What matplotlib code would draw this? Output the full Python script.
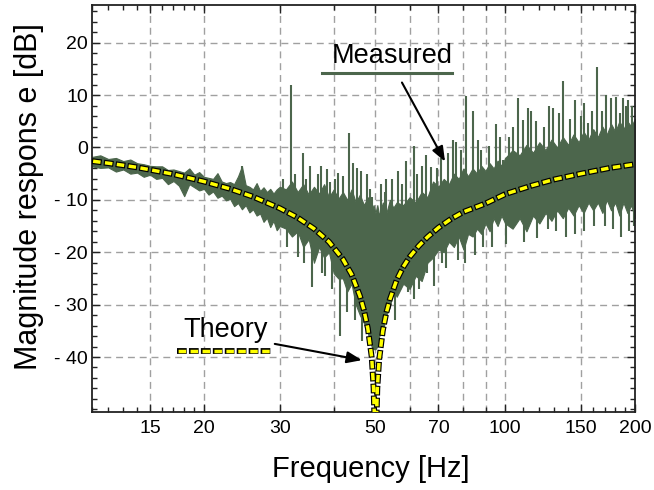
import numpy as np
import matplotlib
matplotlib.use("Agg")
import matplotlib.pyplot as plt
from matplotlib.ticker import FixedLocator, MultipleLocator, NullFormatter

plt.rcParams['font.family'] = ['Liberation Sans', 'DejaVu Sans']
plt.rcParams['lines.scale_dashes'] = False

# ---------------- data ----------------
# theory curve (notch at 50 Hz)
theory_hz = [11, 12, 13, 14, 15, 17, 20, 23, 26, 30, 33, 36, 39, 42, 44, 46, 47, 48, 49,
             49.5, 49.8, 50, 50.2, 50.5, 51, 52, 53, 54, 56, 58, 60, 63, 66, 70, 75, 80,
             90, 100, 115, 130, 150, 175, 200]
theory_db = [-2.6, -3.0, -3.4, -3.8, -4.25, -5.1, -6.5, -7.9, -9.4, -11.6, -13.4, -15.5,
             -18.0, -21.3, -24.2, -28.3, -31.0, -34.5, -40.0, -46.0, -54.0, -80.0, -54.0,
             -46.0, -40.5, -35.0, -31.5, -29.0, -25.3, -22.8, -20.9, -18.8, -17.1, -15.3,
             -13.6, -12.3, -10.7, -8.9, -7.3, -6.1, -5.0, -3.9, -3.2]

# measured trace: upper / lower edge of the noisy band
meas_hz = [11, 11.5, 12, 12.5, 13, 13.5, 14, 14.5, 15, 15.5, 16, 16.5, 17, 17.5, 18, 18.5,
           19, 19.5, 20, 20.5, 21, 21.5, 22, 22.5, 23, 23.5, 24, 24.5, 25, 25.5, 26, 26.5,
           27, 27.5, 28, 28.5, 29, 29.5, 30,
           31, 32, 33, 34, 35, 36, 37, 38, 39, 40, 41, 42, 43, 44, 45, 46, 47, 48, 49,
           49.5, 50, 50.5, 51, 52, 53, 54, 55, 56, 58, 60, 62, 64, 66, 68, 70, 72, 74,
           76, 78, 80, 82, 84, 86, 88, 90, 92, 94, 96, 98, 100,
           104, 108, 112, 116, 120, 124, 128, 132, 136, 140, 144, 148, 152, 156, 160,
           164, 168, 172, 176, 180, 184, 188, 192, 196, 200]
meas_hi = [-1.8, -1.5, -2.2, -2.0, -2.6, -2.3, -3.0, -3.2, -3.5, -3.6, -3.6, -4.3, -4.2,
           -4.5, -4.8, -4.0, -5.2, -4.7, -5.6, -5.8, -6.0, -4.9, -6.5, -6.8, -6.6, -7.0,
           -5.5, -3.6, -7.2, -7.5, -8.0, -6.8, -8.3, -7.6, -8.5, -7.9, -8.8, -8.0, -7.5,
           -8.0, -6.5, -8.5, -7.0, -9.0, -7.5, -8.8, -7.0, -9.5, -8.0, -9.8, -8.5, -10.0,
           -8.0, -10.5, -9.0, -11.0, -9.5, -12.0, -11.0, -12.5, -11.0, -13.0, -10.5,
           -12.5, -10.0, -11.5, -10.5, -11.0, -9.5, -10.5, -8.5, -9.5, -6.5, -7.5, -6.0,
           -7.0, -5.0, -6.0, -4.0, -5.5, -4.0, -5.0, -3.5, -4.5, -3.0, -4.0, -2.5, -3.5,
           -2.0,
           -0.5, -1.5, 0.5, -1.0, 1.0, -0.5, 1.5, 0.0, 2.0, 0.5, 2.5, 1.0, 3.0, 1.5, 3.5,
           2.0, 4.0, 2.5, 4.5, 3.0, 5.0, 3.5, 5.0, 4.0, 5.5]
meas_lo = [-3.6, -3.9, -3.8, -4.6, -4.2, -5.0, -4.8, -5.6, -5.2, -6.0, -5.8, -7.0, -6.4,
           -7.3, -9.3, -7.0, -7.6, -8.2, -7.9, -9.0, -8.4, -9.6, -9.2, -10.1, -9.8, -11.2,
           -10.6, -11.8, -11.0, -12.4, -11.8, -13.0, -12.6, -14.2, -13.4, -15.2, -14.0,
           -15.8, -15.0,
           -15.5, -17.0, -16.0, -19.0, -17.5, -22.0, -19.0, -21.0, -20.0, -24.0, -25.0,
           -25.0, -27.5, -26.0, -30.0, -32.0, -33.5, -35.5, -38.0, -38.5, -38.5, -38.0,
           -36.0, -35.0, -32.0, -30.5, -27.0, -28.5, -26.0, -27.0, -24.5, -25.5, -22.0,
           -21.0, -19.5, -20.0, -18.0, -19.0, -17.0, -19.5, -16.5, -17.0, -15.5, -16.5,
           -14.5, -16.0, -13.5, -15.0, -13.0, -14.5,
           -15.5, -13.5, -16.0, -13.0, -14.5, -12.5, -14.0, -12.0, -13.5, -11.5, -13.0,
           -11.0, -12.5, -10.5, -12.0, -10.5, -12.5, -10.0, -12.0, -10.5, -13.0, -10.5,
           -12.5, -11.0, -13.5]

# single spikes sticking out of the band (frequency, bottom, top)
spike_hz = [24.5, 31.8, 33.9, 35.2, 36.8, 38.6, 40.3, 42.0, 43.5, 45.2, 47.8, 53.0, 56.5,
            61.4, 64.0, 67.1, 71.0, 75.5, 77.0, 81.0, 84.0, 88.0, 91.5, 95.0, 99.0, 102,
            107, 110, 115, 118, 123, 129, 136, 141, 145, 150, 156, 163, 168, 176, 181,
            185, 188, 193, 197,
            30.5, 32.6, 34.5, 37.3, 39.2, 41.0, 44.3, 46.3, 48.6, 49.2, 51.5, 52.5, 54.5,
            57.5, 58.8, 62.5, 65.5, 69.5, 73.5, 79.0, 86.5, 97.0, 104.5, 113, 126, 133,
            152, 159, 171, 191,
            33.0, 35.6, 37.5, 39.6, 41.3, 43.0, 44.8, 59.5, 63.0, 68.5, 73.0, 77.5, 85.0,
            93.0, 110.5, 118.5, 131, 145.5, 160.5, 178, 193.5, 199,
            31.2, 34.2, 38.1, 46.5, 55.5, 61.5, 66.0, 71.5, 80.5, 89.0, 100.5, 125.5, 138,
            152.5, 170.5, 186]
spike_lo = [-8.0, -11.0, -12.0, -13.0, -14.5, -15.5, -17.0, -19.0, -21.0, -24.0, -28.0,
            -26.0, -24.0, -20.0, -19.0, -17.0, -15.0, -13.5, -13.0, -12.5, -12.0, -11.0,
            -10.5, -10.0, -9.5, -9.0, -8.0, -7.5, -7.5, -7.0, -6.5, -6.5, -6.0, -5.5,
            -5.5, -5.0, -5.0, -4.5, -4.0, -4.0, -3.5, -3.5, -3.5, -3.2, -3.2,
            -14.0, -15.0, -16.0, -17.0, -18.0, -20.0, -23.0, -26.0, -30.0, -33.0, -34.0,
            -32.0, -28.0, -25.0, -24.0, -21.0, -19.0, -17.0, -15.0, -13.0, -11.0, -9.0,
            -8.0, -7.0, -6.0, -6.0, -5.0, -5.0, -4.0, -3.5,
            -21.0, -26.7, -24.0, -27.0, -36.0, -31.4, -33.0, -27.5, -27.0, -26.5, -23.0,
            -21.5, -20.5, -19.0, -18.0, -17.3, -16.0, -16.6, -15.0, -15.5, -16.0, -15.0,
            -19.0, -22.0, -24.5, -37.0, -33.0, -29.0, -24.0, -22.0, -22.0, -19.0, -18.5,
            -15.5, -17.0, -16.0, -15.0, -17.0]
spike_hi = [-3.6, 12.0, -1.0, -3.5, -5.0, -4.2, -6.0, -5.5, 2.7, -4.0, -5.1, -6.0, -4.5,
            0.2, -3.5, -3.8, -2.0, 1.5, 1.0, 9.9, 6.9, -0.5, 0.2, 4.4, -2.3, 2.0, 9.5,
            5.3, 6.9, 5.0, 4.0, 7.6, 12.6, 5.5, 9.1, 6.0, 4.7, 15.4, 7.0, 9.5, 9.7, 6.5,
            9.5, 9.1, 8.0,
            -6.0, -5.0, -6.0, -3.5, -6.5, -4.8, -3.0, -4.5, -8.0, -9.5, -7.0, -8.5, -6.0,
            -7.0, -2.5, -5.0, -1.5, -4.0, -1.0, -0.5, 1.5, 2.0, 4.0, 7.5, 8.0, 6.5, 8.5,
            7.0, 10.0, 8.0,
            -13.0, -15.0, -16.0, -18.0, -20.0, -22.0, -24.0, -21.0, -18.5, -16.5, -15.0,
            -13.5, -11.5, -10.0, -8.0, -7.0, -6.0, -5.0, -4.5, -4.0, -3.5, -3.2,
            -11.0, -13.0, -15.5, -25.0, -26.0, -21.0, -17.0, -15.0, -12.5, -11.0, -9.0,
            -6.5, -6.0, -5.0, -4.0, -3.6]

xticks = [15, 20, 30, 50, 70, 100, 150, 200]
xminor = [11, 12, 13, 14, 16, 17, 18, 19, 40, 60, 80, 90, 110, 120, 130, 140, 160, 170,
          180, 190]
xgrid = [15, 20, 30, 40, 50, 60, 70, 80, 90, 100, 150]
yticks = [20, 10, 0, -10, -20, -30, -40]
ylabels = ['20', '10', '0', '- 10', '- 20', '- 30', '- 40']

green = '#4c664c'

# ---------------- figure ----------------
fig = plt.figure(figsize=(6.54, 4.9), dpi=100)
ax = fig.add_axes([92 / 654, 78 / 490, 543 / 654, 407 / 490])
ax.set_xscale('log')

for g in xgrid:
    ax.axvline(g, color='#a0a0a0', lw=1.0, ls=(0, (5, 3.5)), zorder=0)
for t in yticks:
    ax.axhline(t, color='#a0a0a0', lw=1.0, ls=(0, (5, 3.5)), zorder=0)

ax.fill_between(meas_hz, meas_lo, meas_hi, color=green, lw=0.8, zorder=2)
ax.vlines(spike_hz, spike_lo, spike_hi, color=green, lw=1.5, zorder=2)

# theory: yellow dashes with black border
black_ls = (0, (7.0, 1.6))
yellow_ls = (7.8, (5.4, 3.2))
ax.plot(theory_hz, theory_db, color='black', lw=4.2, ls=black_ls,
        dash_capstyle='butt', zorder=3)
ax.plot(theory_hz, theory_db, color='#ffff00', lw=2.5, ls=yellow_ls,
        dash_capstyle='butt', zorder=4)

ax.set_xlim(11, 200)
ax.set_ylim(-50.5, 27.2)

ax.xaxis.set_major_locator(FixedLocator(xticks))
ax.xaxis.set_minor_locator(FixedLocator(xminor))
ax.set_xticklabels([str(v) for v in xticks])
ax.xaxis.set_minor_formatter(NullFormatter())
ax.set_yticks(yticks)
ax.set_yticklabels(ylabels)
ax.yaxis.set_minor_locator(MultipleLocator(2))

ax.tick_params(which='both', direction='in', top=True, right=True, width=1.0,
               color='#222222')
ax.tick_params(which='major', length=6)
ax.tick_params(which='minor', length=3.5)
ax.tick_params(axis='x', which='major', labelsize=14, pad=6)
ax.tick_params(axis='y', which='major', labelsize=14, pad=3)
for s in ax.spines.values():
    s.set_linewidth(1.3)
    s.set_color('#222222')

fig.text(371 / 654, 1 - 469 / 490, 'Frequency [Hz]', fontsize=21,
         ha='center', va='center')
fig.text(29 / 654, 1 - 197 / 490, 'Magnitude respons e [dB]', fontsize=22,
         rotation=90, ha='center', va='center')

# annotations
ax.text(54.6, 17.4, 'Measured', fontsize=19.5, ha='center', va='center')
ax.plot([37.6, 75.2], [14.3, 14.3], color=green, lw=2.2, zorder=5)
ax.annotate('', xy=(72.5, -2.7), xytext=(57.6, 12.4),
            arrowprops=dict(arrowstyle='-|>,head_length=0.9,head_width=0.35',
                            color='black', lw=1.5, shrinkA=0, shrinkB=0), zorder=6)

ax.text(22.4, -34.9, 'Theory', fontsize=19.5, ha='center', va='center')
ax.plot([17.3, 28.7], [-38.9, -38.9], color='black', lw=4.2, ls=black_ls,
        dash_capstyle='butt', zorder=5)
ax.plot([17.3, 28.7], [-38.9, -38.9], color='#ffff00', lw=2.5, ls=yellow_ls,
        dash_capstyle='butt', zorder=6)
ax.annotate('', xy=(46.5, -40.6), xytext=(29.2, -37.5),
            arrowprops=dict(arrowstyle='-|>,head_length=0.9,head_width=0.35',
                            color='black', lw=1.5, shrinkA=0, shrinkB=0), zorder=6)

fig.savefig('out.png', dpi=100)
